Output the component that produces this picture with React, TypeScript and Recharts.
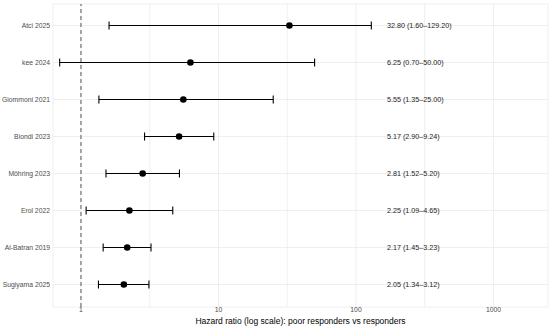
import { CartesianGrid, ErrorBar, ReferenceLine, Scatter, ScatterChart, XAxis, YAxis } from 'recharts'

const studies = ['Atci 2025', 'kee 2024', 'Giommoni 2021', 'Biondi 2023', 'Möhring 2023', 'Erol 2022', 'Al-Batran 2019', 'Sugiyama 2025']
const hr = [32.8, 6.25, 5.55, 5.17, 2.81, 2.25, 2.17, 2.05]
const lower = [1.6, 0.7, 1.35, 2.9, 1.52, 1.09, 1.45, 1.34]
const upper = [129.2, 50, 25, 9.24, 5.2, 4.65, 3.23, 3.12]
const labels = [
  '32.80 (1.60–129.20)',
  '6.25 (0.70–50.00)',
  '5.55 (1.35–25.00)',
  '5.17 (2.90–9.24)',
  '2.81 (1.52–5.20)',
  '2.25 (1.09–4.65)',
  '2.17 (1.45–3.23)',
  '2.05 (1.34–3.12)',
]
const majorTicks = [1, 10, 100, 1000]
const minorTicks = [3.162, 31.62, 316.2]
const labelX = 168 // where the text column sits, in HR units

const font = '"Liberation Sans", Arial, sans-serif'

const rows = studies.map((s, i) => ({
  study: s,
  x: hr[i],
  err: [hr[i] - lower[i], upper[i] - hr[i]],
}))
const textRows = studies.map((s, i) => ({ study: s, x: labelX, label: labels[i] }))
const allTicks = [...majorTicks, ...minorTicks].sort((a, b) => a - b)

function LabelText(props: any) {
  return (
    <text x={props.cx} y={props.cy} dominantBaseline="central" textAnchor="start"
      fontSize={7.2} fill="#1a1a1a" fontFamily={font}>
      {props.payload.label}
    </text>
  )
}

function StudyTick(props: any) {
  return (
    <text x={props.x} y={props.y} dominantBaseline="central" textAnchor="end"
      fontSize={6.8} fill="#4D4D4D" fontFamily={font}>
      {props.payload.value}
    </text>
  )
}

function HrTick(props: any) {
  const v = props.payload.value
  if (!majorTicks.includes(v)) return null
  return (
    <text x={props.x} y={props.y} dominantBaseline="hanging" textAnchor="middle"
      fontSize={6.8} fill="#4D4D4D" fontFamily={font}>
      {String(v)}
    </text>
  )
}

export default function App() {
  return (
    <div style={{ position: 'absolute', left: 0, top: 0, width: 550, height: 331, background: '#fff' }}>
      <ScatterChart width={550} height={331} margin={{ top: 4, right: 2, left: 0, bottom: 0 }}>
        <CartesianGrid stroke="#EBEBEB" strokeWidth={0.8} />
        <XAxis
          type="number"
          dataKey="x"
          scale="log"
          domain={[0.626, 2490]}
          allowDataOverflow
          ticks={allTicks}
          axisLine={false}
          tickLine={false}
          tickSize={0}
          tickMargin={0}
          height={24}
          tick={<HrTick />}
          label={{ value: 'Hazard ratio (log scale): poor responders vs responders', position: 'insideBottom', offset: 7, fontSize: 8.5, fill: '#000', fontFamily: font }}
        />
        <YAxis
          type="category"
          dataKey="study"
          allowDuplicatedCategory={false}
          reversed
          width={53}
          padding={{ top: 3, bottom: 4 }}
          axisLine={false}
          tickLine={false}
          tickSize={0}
          tickMargin={3}
          tick={<StudyTick />}
        />
        <ReferenceLine x={1} stroke="#555" strokeDasharray="4 3" strokeWidth={1} />
        <Scatter data={rows} fill="#000" isAnimationActive={false}
          shape={(p: any) => <circle cx={p.cx} cy={p.cy} r={3.3} fill="#000" />}>
          <ErrorBar dataKey="err" direction="x" width={4} stroke="#000" strokeWidth={1.1} isAnimationActive={false} />
        </Scatter>
        <Scatter data={textRows} isAnimationActive={false} shape={LabelText} />
      </ScatterChart>
    </div>
  )
}
